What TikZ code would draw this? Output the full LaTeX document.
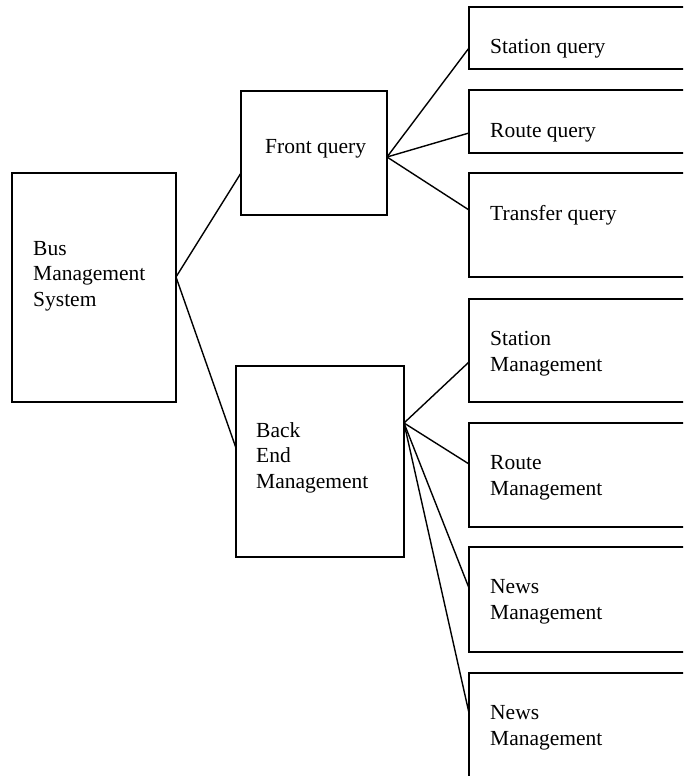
\documentclass[tikz,border=0pt]{standalone}
\usepackage{fontspec}
\setmainfont{Liberation Serif}
\begin{document}
\begin{tikzpicture}[x=1pt,y=-1pt,
  boxline/.style={draw=black,line width=1.4pt},
  lbl/.style={anchor=base west,inner sep=0pt,align=left,font=\fontsize{21.5}{25.5}\selectfont},
  conn/.style={draw=black,line width=1.4pt}]
\clip (0,0) rectangle (683,776);
\fill[white] (0,0) rectangle (683,776);
% boxes
\draw[boxline] (12,173) rectangle (176,402);
\draw[boxline] (241,91) rectangle (387,215);
\draw[boxline] (236,366) rectangle (404,557);
\draw[boxline] (469,7) rectangle (700,69);
\draw[boxline] (469,90) rectangle (700,153);
\draw[boxline] (469,173) rectangle (700,277);
\draw[boxline] (469,299) rectangle (700,402);
\draw[boxline] (469,423) rectangle (700,527);
\draw[boxline] (469,547) rectangle (700,652);
\draw[boxline] (469,673) rectangle (700,800);
% labels (anchor = baseline of the last line)
\node[lbl] (bus) at (33,306) {Bus\\Management\\System};
\node[lbl] (front) at (265,153) {Front query};
\node[lbl] (back) at (256,488) {Back\\End\\Management};
\node[lbl] (sq) at (490,53) {Station query};
\node[lbl] (rq) at (490,137) {Route query};
\node[lbl] (tq) at (490,220) {Transfer query};
\node[lbl] (sm) at (490,371) {Station\\Management};
\node[lbl] (rm) at (490,495) {Route\\Management};
\node[lbl] (nm) at (490,619) {News\\Management};
\node[lbl] (nm2) at (490,745) {News\\Management};
% connector points
\coordinate (busR) at (176,277);
\coordinate (frontL) at (241,173);
\coordinate (frontR) at (387,157);
\coordinate (backL) at (236,448);
\coordinate (backR) at (404,423);
\coordinate (sqL) at (469,48);
\coordinate (rqL) at (469,133);
\coordinate (tqL) at (469,210);
\coordinate (smL) at (469,362);
\coordinate (rmL) at (469,464);
\coordinate (nmL) at (469,588);
\coordinate (nm2L) at (469,713);
\draw[conn] (busR) -- (frontL);
\draw[conn] (busR) -- (backL);
\draw[conn] (frontR) -- (sqL);
\draw[conn] (frontR) -- (rqL);
\draw[conn] (frontR) -- (tqL);
\draw[conn] (backR) -- (smL);
\draw[conn] (backR) -- (rmL);
\draw[conn] (backR) -- (nmL);
\draw[conn] (backR) -- (nm2L);
\end{tikzpicture}
\end{document}
